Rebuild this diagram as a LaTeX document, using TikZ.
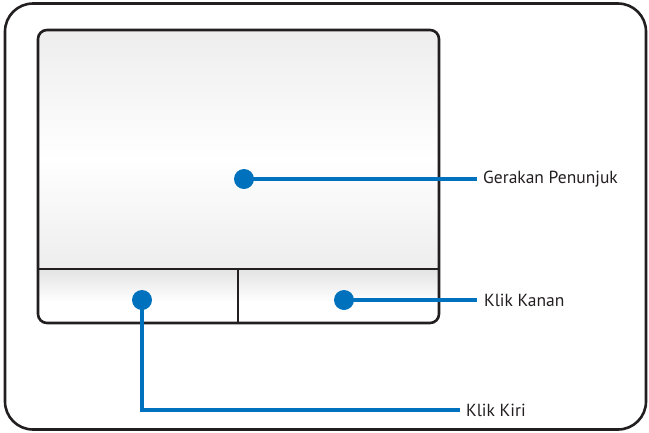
\documentclass[tikz,border=0pt]{standalone}
\usepackage{fontspec}
\setmainfont{PT Sans}
\definecolor{frame}{HTML}{231F20}
\definecolor{dotblue}{HTML}{0071BC}
\tikzset{
  outline/.style={draw=frame, line width=2.6pt},
  leader/.style={draw=dotblue, line width=4pt},
  dot/.style={circle, fill=dotblue, inner sep=0pt, minimum size=20pt},
  lbl/.style={anchor=west, inner sep=0pt, text=frame, font=\fontsize{17.5}{18}\selectfont},
}
\begin{document}
\begin{tikzpicture}[x=1pt,y=-1pt]
\useasboundingbox (0,0) rectangle (649,432);
% outer frame
\draw[outline, rounded corners=28pt] (5,3.5) rectangle (646,429.5);
% pad surface
\begin{scope}
\clip[rounded corners=9pt] (38,30) rectangle (439,323);
\shade[top color=gray!14, bottom color=white] (38,30) rectangle (439,160);
\shade[top color=white, bottom color=gray!14] (38,159) rectangle (439,269);
\shade[top color=gray!22, bottom color=white] (38,269) rectangle (439,302);
\fill[white] (38,301) rectangle (439,323);
\end{scope}
% pad outline
\draw[outline, rounded corners=9pt] (38,30) rectangle (439,323);
\draw[outline] (38,269) -- (439,269);
\draw[outline] (238,269) -- (238,323);
% dots
\node[dot] (pd) at (244,179) {};
\node[dot] (rd) at (344,300) {};
\node[dot] (ld) at (142,300) {};
% labels
\node[lbl] (pl) at (483,179) {Gerakan Penunjuk};
\node[lbl] (rl) at (484,300) {Klik Kanan};
\node[lbl] (ll) at (466,410) {Klik Kiri};
\coordinate (pe) at (477,179);
\coordinate (re) at (477,300);
\coordinate (le) at (460,410);
% leaders
\draw[leader] (pd.center) -- (pe);
\draw[leader] (rd.center) -- (re);
\draw[leader] (ld.center) |- (le);
\end{tikzpicture}
\end{document}
